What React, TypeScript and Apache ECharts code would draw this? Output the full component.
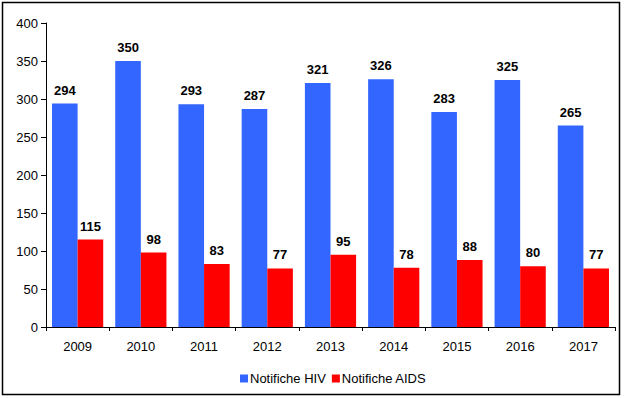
import React, { useEffect, useRef } from "react";
import * as echarts from "echarts";

const categories = ["2009", "2010", "2011", "2012", "2013", "2014", "2015", "2016", "2017"];
const hivValues = [294, 350, 293, 287, 321, 326, 283, 325, 265];
const aidsValues = [115, 98, 83, 77, 95, 78, 88, 80, 77];
const seriesNames = ["Notifiche HIV", "Notifiche AIDS"];

export default function App() {
  const ref = useRef<HTMLDivElement>(null);
  useEffect(() => {
    document.body.style.margin = "0";
    const chart = echarts.init(ref.current!, null, { renderer: "svg" });
    const font = "'Liberation Sans', Arial, sans-serif";
    const labelStyle = {
      show: true,
      position: "top" as const,
      distance: 7,
      fontFamily: font,
      fontSize: 13,
      fontWeight: "bold" as const,
      color: "#000",
    };
    chart.setOption({
      animation: false,
      backgroundColor: "#fff",
      textStyle: { fontFamily: font },
      grid: { left: 46, right: 12, top: 23, bottom: 71, containLabel: false },
      legend: {
        bottom: 8,
        left: 235,
        itemWidth: 8,
        itemHeight: 8,
        itemGap: 6,
        icon: "rect",
        textStyle: { fontFamily: font, fontSize: 13, color: "#000", padding: [0, 0, 0, -3] },
        data: seriesNames,
      },
      xAxis: {
        type: "category",
        data: categories,
        axisLine: { lineStyle: { color: "#000", width: 1 } },
        axisTick: { show: true, length: 4, lineStyle: { color: "#000" } },
        axisLabel: { color: "#000", fontSize: 13, fontFamily: font, margin: 13 },
      },
      yAxis: {
        type: "value",
        min: 0,
        max: 400,
        interval: 50,
        axisLine: { show: true, lineStyle: { color: "#000", width: 1 } },
        axisTick: { show: true, length: 5, lineStyle: { color: "#000" } },
        splitLine: { show: false },
        axisLabel: { color: "#000", fontSize: 13, fontFamily: font, margin: 8 },
      },
      series: [
        {
          name: seriesNames[0],
          type: "bar",
          data: hivValues,
          barGap: "0%",
          barCategoryGap: "19%",
          itemStyle: { color: "#3366FF" },
          label: labelStyle,
        },
        {
          name: seriesNames[1],
          type: "bar",
          data: aidsValues,
          barGap: "0%",
          barCategoryGap: "19%",
          itemStyle: { color: "#FF0000" },
          label: labelStyle,
        },
      ],
      graphic: [
        {
          type: "rect",
          shape: { x: 2.5, y: 2.5, width: 617, height: 392 },
          style: { fill: "none", stroke: "#000", lineWidth: 1.5 },
          silent: true,
          z: 100,
        },
      ],
    });
    return () => chart.dispose();
  }, []);
  return <div ref={ref} style={{ width: 627, height: 398, position: "absolute", left: 0, top: 0 }} />;
}
